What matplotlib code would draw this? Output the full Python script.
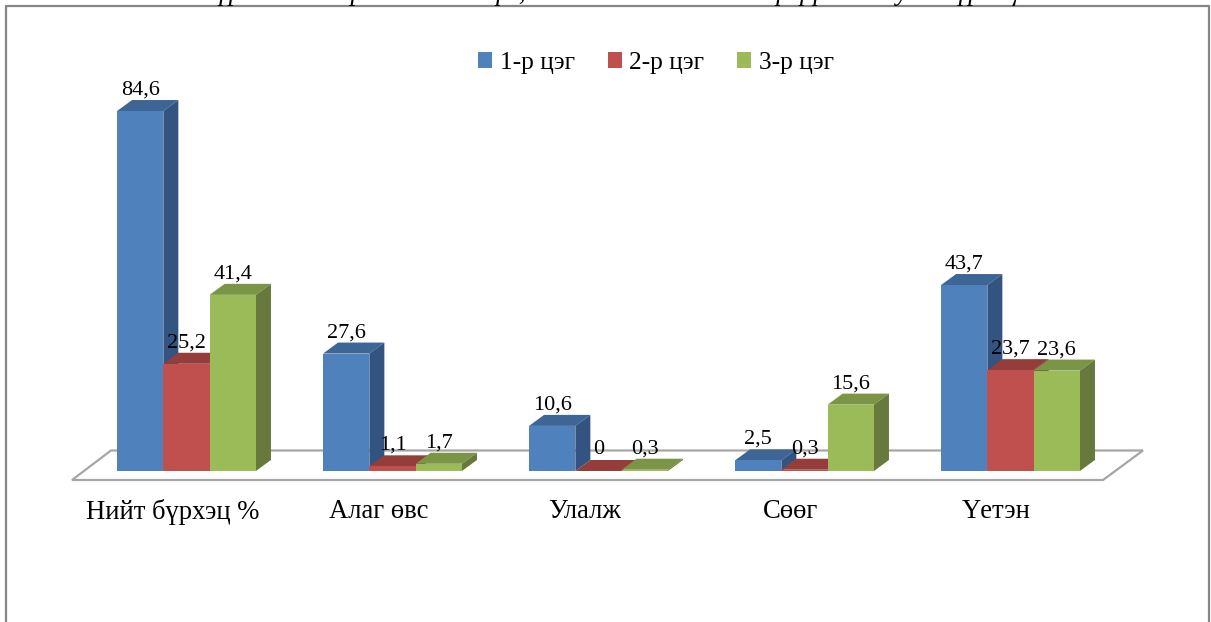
import matplotlib
matplotlib.use('Agg')
import matplotlib.pyplot as plt
from matplotlib.patches import Patch

plt.rcParams['font.family'] = ['Liberation Serif', 'DejaVu Serif']

categories = ['Нийт бүрхэц %', 'Алаг өвс', 'Улалж', 'Сөөг', 'Үетэн']
series_names = ['1-р цэг', '2-р цэг', '3-р цэг']
point1 = [84.6, 27.6, 10.6, 2.5, 43.7]
point2 = [25.2, 1.1, 0, 0.3, 23.7]
point3 = [41.4, 1.7, 0.3, 15.6, 23.6]
value_labels = [
    ['84,6', '27,6', '10,6', '2,5', '43,7'],
    ['25,2', '1,1', '0', '0,3', '23,7'],
    ['41,4', '1,7', '0,3', '15,6', '23,6'],
]
cut_title = 'бүрэлт ба өөрчлөлтийн дүн, сэлгээ болон хэмжээ үзүүлэлт дунд бүрхэц'

front_colors = ['#4F81BD', '#C0504D', '#9BBB59']
top_colors = ['#3D6595', '#953D3B', '#7A9546']
side_colors = ['#335480', '#7E3331', '#67793C']

W, H = 1211, 622
PX_X = 206.0     # pixels per category
PX_Y = 4.255     # pixels per value unit
X0, Y0 = 186.5, 471

bar_w = 46.3 / PX_X
dx = 15 / PX_X
dy = 11 / PX_Y


def px(x, y):
    # pixel position in the picture -> data position
    return (x - X0) / PX_X, (Y0 - y) / PX_Y


fig = plt.figure(figsize=(W / 100, H / 100), dpi=100)
ax = fig.add_axes([0, 0, 1, 1])
ax.set_xlim(px(0, 0)[0], px(W, 0)[0])
ax.set_ylim(px(0, H)[1], px(0, 0)[1])
ax.axis('off')

# chart frame, the bottom edge is cut off
frame = [px(6, H), px(6, 6), px(1209.5, 6), px(1209.5, H)]
ax.plot([p[0] for p in frame], [p[1] for p in frame], color='#868686', lw=1.6, zorder=1)

# floor
floor = [px(72, 480), px(111, 450.5), px(1143, 450.5), px(1103, 480)]
ax.fill([p[0] for p in floor], [p[1] for p in floor], facecolor='white',
        edgecolor='#A6A6A6', lw=1.6, zorder=2, joinstyle='miter')

series = [point1, point2, point3]
z = 3
for c in range(len(categories)):
    for s, values in enumerate(series):
        x = c + (s - 1) * bar_w
        h = values[c]
        l, r = x - bar_w / 2, x + bar_w / 2
        ax.fill([l, r, r + dx, l + dx], [h, h, h + dy, h + dy],
                color=top_colors[s], lw=0, zorder=z)
        ax.fill([r, r + dx, r + dx, r], [0, dy, h + dy, h],
                color=side_colors[s], lw=0, zorder=z)
        ax.bar(x, h, width=bar_w, color=front_colors[s], lw=0, zorder=z + 0.5)
        z += 1

for s, values in enumerate(series):
    for c, v in enumerate(values):
        x = c + (s - 1) * bar_w
        ax.text(x, v + 21 / PX_Y, value_labels[s][c], fontsize=16, color='black',
                ha='center', va='center', zorder=50)

for c, name in enumerate(categories):
    ax.text(c - 14 / PX_X, -41 / PX_Y, name, fontsize=19.2, color='black',
            ha='center', va='center', zorder=50)

handles = [Patch(color=col, lw=0) for col in front_colors]
ax.legend(handles, series_names, ncol=3, frameon=False, fontsize=18.3,
          loc='center', bbox_to_anchor=(656 / W, 1 - 63 / H),
          handlelength=0.55, handleheight=0.55, handletextpad=0.3,
          columnspacing=1.29, borderpad=0)

# caption above the chart, only its lower edge is on the picture
tx, ty = px(610, 0)
ax.text(tx, ty, cut_title, fontsize=19.2, style='italic', color='black',
        ha='center', va='baseline', zorder=50)

fig.savefig('out.png', dpi=100, facecolor='white')
